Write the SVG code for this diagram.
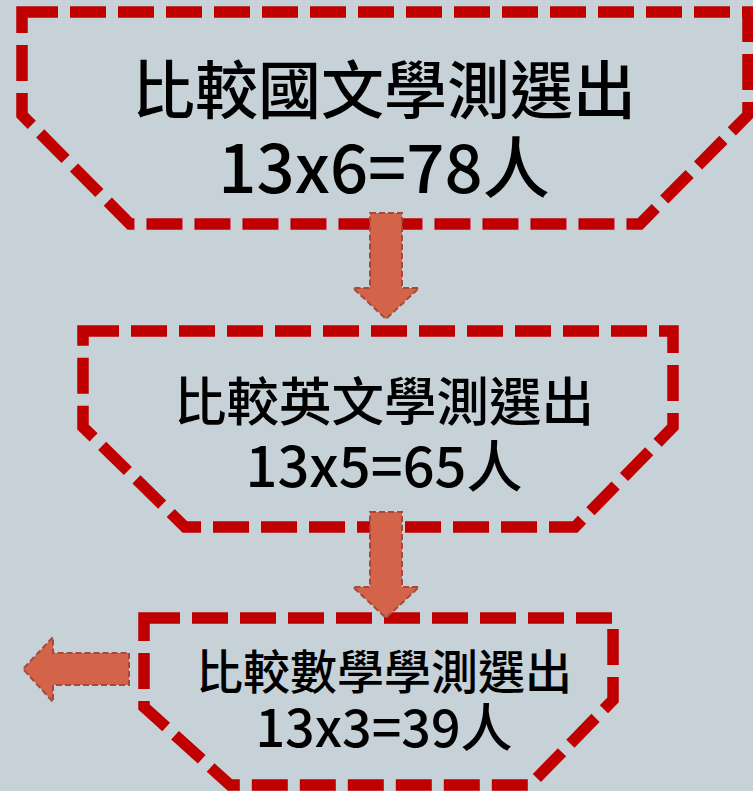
<svg xmlns="http://www.w3.org/2000/svg" width="753" height="791" viewBox="0 0 753 791">
<style>
.box{fill:none;stroke:#C00000;stroke-width:11.5;stroke-dasharray:36 12;stroke-linejoin:miter}
.arr{fill:#D3644A;stroke:#A54A3B;stroke-width:2;stroke-dasharray:6 3}
.t{font-family:"Noto Sans CJK TC","Noto Sans CJK SC",sans-serif;font-weight:500;fill:#000;text-anchor:middle}
</style>
<rect width="753" height="791" fill="#C6D1D8"/>
<g id="node1">
<path class="box" d="M22,12 H748 V115 L640,224 H130 L22,115 Z"/>
<text class="t"><tspan x="384" y="113" font-size="63">比較國文學測選出</tspan><tspan x="384" y="193" font-size="67">13x6=78人</tspan></text>
</g>
<g id="node2">
<path class="box" d="M83,331 H673 V427 L575,527 H185 L83,427 Z"/>
<text class="t"><tspan x="384" y="421" font-size="52.5">比較英文學測選出</tspan><tspan x="384" y="487" font-size="56">13x5=65人</tspan></text>
</g>
<g id="node3">
<path class="box" d="M144,618 H613 V700 L530,785 H230 L144,707 Z"/>
<text class="t"><tspan x="384" y="689" font-size="47">比較數學學測選出</tspan><tspan x="384" y="747" font-size="52">13x3=39人</tspan></text>
</g>
<g id="connectors">
<path class="arr" d="M370,213 H402 V288 H419 L386,319 L353,288 H370 Z"/>
<path class="arr" d="M370,512 H402 V587 H419 L386,618 L353,587 H370 Z"/>
<path class="arr" d="M129,653 V685 H53 V702 L23,669 L53,637 V653 Z"/>
</g>
</svg>
